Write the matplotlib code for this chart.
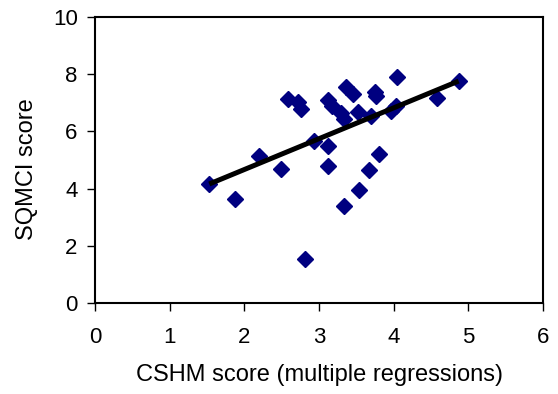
import numpy as np
import matplotlib.pyplot as plt

plt.rcParams['font.family'] = ['Liberation Sans', 'DejaVu Sans']

# CSHM score (x) vs SQMCI score (y)
cshm = [1.53, 1.88, 2.19, 2.49, 2.58, 2.72, 2.76, 2.81, 2.93, 3.12,
        3.12, 3.12, 3.18, 3.30, 3.33, 3.33, 3.36, 3.45, 3.52, 3.53,
        3.67, 3.70, 3.75, 3.77, 3.80, 3.97, 4.03, 4.04, 4.58, 4.87]
sqmci = [4.16, 3.64, 5.15, 4.68, 7.13, 7.03, 6.80, 1.55, 5.66, 5.50,
         4.80, 7.08, 6.90, 6.65, 6.45, 3.38, 7.55, 7.30, 6.68, 3.95,
         4.65, 6.55, 7.38, 7.22, 5.20, 6.72, 6.88, 7.90, 7.17, 7.77]

# trend line end points
trend_x = [1.53, 4.87]
trend_y = [4.16, 7.76]

fig = plt.figure(figsize=(5.58, 3.94), dpi=100)
ax = fig.add_axes([0.1703, 0.231, 0.8028, 0.7259])

ax.plot(cshm, sqmci, linestyle='none', marker='D', markersize=8,
        color='#000080', zorder=2)
ax.plot(trend_x, trend_y, color='black', linewidth=3.6,
        solid_capstyle='butt', zorder=3)

ax.set_xlim(0, 6)
ax.set_ylim(0, 10)
ax.set_xticks(range(0, 7))
ax.set_yticks(range(0, 11, 2))
ax.tick_params(direction='out', length=5.5, width=1, labelsize=16)
ax.tick_params(axis='x', pad=12)
ax.tick_params(axis='y', pad=7)
for s in ax.spines.values():
    s.set_linewidth(1.5)

ax.set_xlabel('CSHM score (multiple regressions)', fontsize=17)
ax.set_ylabel('SQMCI score', fontsize=17)
ax.xaxis.set_label_coords(0.5, -0.215)
ax.yaxis.set_label_coords(-0.128, 0.469)

plt.savefig('out.png', dpi=100)
